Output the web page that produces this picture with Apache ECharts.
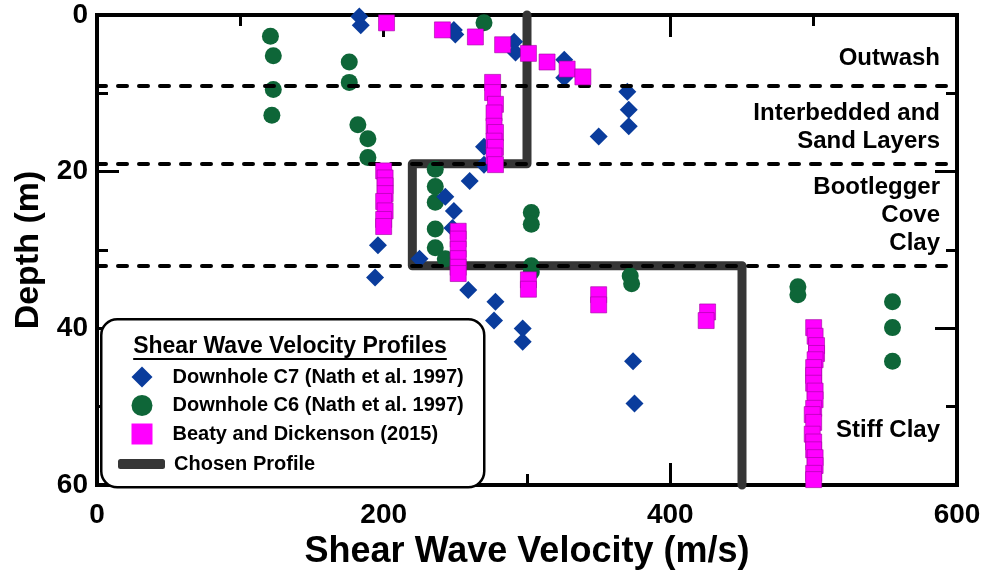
<!DOCTYPE html>
<html>
<head>
<meta charset="utf-8">
<script src="https://cdn.jsdelivr.net/npm/echarts@6/dist/echarts.min.js"></script>
<style>
  html, body { margin: 0; padding: 0; background: #ffffff; }
  #chart { width: 984px; height: 575px; }
</style>
</head>
<body>
<div id="chart"></div>
<script>
// Axis ranges and tick steps
const velocityTicks = [0, 200, 400, 600];
const depthTicks = [0, 20, 40, 60];

// Depths (m) of the boundaries between soil layers
const layerBoundaries = [9, 19, 32];

// Downhole C7 (Nath et al. 1997): [shear wave velocity m/s, depth m]
const downholeC7 = [
  [183, 0.2], [184, 1.3], [249, 1.9], [250, 2.5], [291, 3.4], [292, 4.8],
  [326, 5.7], [326, 8.0], [370, 9.8], [371, 12.1], [371, 14.2], [350, 15.5],
  [270, 16.8], [270, 19.1], [260, 21.2], [243, 23.2], [249, 25.0], [248, 27.2],
  [196, 29.4], [225, 31.1], [194, 33.5], [259, 35.1], [278, 36.6], [277, 39.0],
  [297, 40.0], [297, 41.7], [374, 44.2], [375, 49.6]
];

// Downhole C6 (Nath et al. 1997)
const downholeC6 = [
  [121, 2.7], [123, 5.2], [123, 9.5], [122, 12.8], [270, 1.0], [176, 6.0],
  [176, 8.6], [182, 14.0], [189, 15.8], [189, 18.2], [236, 19.7], [236, 21.9],
  [236, 23.9], [236, 27.3], [236, 29.7], [243, 31.1], [303, 25.2], [303, 26.7],
  [303, 32.0], [303, 32.8], [372, 33.3], [373, 34.3], [489, 34.7], [489, 35.7],
  [555, 36.6], [555, 39.9], [555, 44.2]
];

// Beaty and Dickenson (2015)
const beatyDickenson = [
  [202, 1.0], [241, 1.9], [264, 2.8], [283, 3.8], [301, 4.9], [314, 6.0],
  [328, 6.9], [339, 7.9],
  [276, 8.6], [276, 9.9], [278, 11.4], [277, 12.5], [277, 14.2], [278, 15.0],
  [277, 16.1], [278, 16.9], [277, 18.0], [278, 19.1],
  [200, 19.9], [201, 20.8], [201, 21.8], [201, 22.8], [200, 23.8], [201, 25.0],
  [200, 26.1], [200, 27.0],
  [252, 27.6], [252, 28.6], [252, 29.9], [252, 31.1], [252, 32.2], [252, 33.0],
  [301, 33.8], [301, 35.0], [350, 35.7], [350, 37.0], [426, 37.9], [425, 39.0],
  [500, 39.9], [501, 41.0], [502, 42.2], [502, 43.2], [501, 44.0], [500, 45.0],
  [500, 46.0], [500, 47.0], [501, 48.0], [501, 49.1], [500, 50.2], [499, 51.0],
  [500, 52.0], [499, 53.5], [500, 54.5], [500, 55.5], [501, 56.5], [501, 57.5],
  [500, 58.5], [500, 59.3]
];

// Chosen step profile
const chosenProfile = [
  [300, 0], [300, 19], [220, 19], [220, 32], [450, 32], [450, 60]
];

const FONT = "'Liberation Sans', Arial, Helvetica, sans-serif";
const BLUE = '#0a3c9c';
const GREEN = '#0e6638';
const MAGENTA = '#ff00ff';
const PROFILE = '#363636';

const chart = echarts.init(document.getElementById('chart'), null, { renderer: 'canvas' });

const vStep = velocityTicks[1] - velocityTicks[0];
const dStep = depthTicks[1] - depthTicks[0];

function frameAxis(extra) {
  return Object.assign({
    axisLine: { show: true, onZero: false, lineStyle: { color: '#000', width: 4, cap: 'square' } },
    axisTick: { show: true, inside: true, length: 22, lineStyle: { color: '#000', width: 3 } },
    minorTick: { show: true, splitNumber: 2, length: 11, lineStyle: { color: '#000', width: 3 } },
    splitLine: { show: false },
    minorSplitLine: { show: false }
  }, extra);
}

const xBase = {
  type: 'value',
  min: velocityTicks[0],
  max: velocityTicks[velocityTicks.length - 1],
  interval: vStep
};
const yBase = {
  type: 'value',
  inverse: true,
  min: depthTicks[0],
  max: depthTicks[depthTicks.length - 1],
  interval: dStep
};

// Title of the legend box, underlined
const legendTitle = 'Shear Wave Velocity Profiles';
const titleFont = 'bold 23px ' + FONT;
const ctx = document.createElement('canvas').getContext('2d');
ctx.font = titleFont;
const titleWidth = ctx.measureText(legendTitle).width;
const titleCx = 290;

const labelStyle = { fontFamily: FONT, fontWeight: 'bold', fontSize: 24, fill: '#000', align: 'right', lineHeight: 28 };

const option = {
  animation: false,
  backgroundColor: '#ffffff',
  grid: { left: 97, right: 27, top: 15, bottom: 88, containLabel: false },
  xAxis: [
    frameAxis(Object.assign({}, xBase, {
      position: 'bottom',
      name: 'Shear Wave Velocity (m/s)',
      nameLocation: 'middle',
      nameGap: 47,
      nameTextStyle: { fontFamily: FONT, fontWeight: 'bold', fontSize: 36, color: '#000' },
      axisLabel: { show: true, margin: 16, fontFamily: FONT, fontWeight: 'bold', fontSize: 28, color: '#000' }
    })),
    frameAxis(Object.assign({}, xBase, { position: 'top', axisLabel: { show: false } }))
  ],
  yAxis: [
    frameAxis(Object.assign({}, yBase, {
      position: 'left',
      name: 'Depth (m)',
      nameLocation: 'middle',
      nameGap: 44,
      nameTextStyle: { fontFamily: FONT, fontWeight: 'bold', fontSize: 34, color: '#000' },
      axisLabel: { show: true, margin: 9, fontFamily: FONT, fontWeight: 'bold', fontSize: 28, color: '#000' }
    })),
    frameAxis(Object.assign({}, yBase, { position: 'right', axisLabel: { show: false } }))
  ],
  legend: [
    {
      data: [
        { name: 'Downhole C7 (Nath et al. 1997)', icon: 'diamond' },
        { name: 'Downhole C6 (Nath et al. 1997)', icon: 'circle' },
        { name: 'Beaty and Dickenson (2015)', icon: 'rect', itemStyle: { borderWidth: 0 } }
      ],
      orient: 'vertical',
      left: 126.5,
      top: 361.5,
      itemWidth: 21,
      itemHeight: 21,
      itemGap: 7.5,
      selectedMode: false,
      z: 20,
      textStyle: { fontFamily: FONT, fontWeight: 'bold', fontSize: 20, color: '#000', padding: [0, 0, 0, 15] }
    },
    {
      data: [{ name: 'Chosen Profile', icon: 'roundRect', itemStyle: { color: PROFILE } }],
      orient: 'vertical',
      left: 113,
      top: 449,
      itemWidth: 47,
      itemHeight: 10,
      selectedMode: false,
      z: 20,
      textStyle: { fontFamily: FONT, fontWeight: 'bold', fontSize: 20, color: '#000', padding: [0, 0, 0, 4] }
    }
  ],
  graphic: [
    {
      type: 'rect', z: 10, left: 100, top: 318,
      shape: { width: 383, height: 168, r: 16 },
      style: { fill: '#ffffff', stroke: '#000', lineWidth: 2.5 }
    },
    {
      type: 'text', z: 11, x: titleCx, y: 347,
      style: { text: legendTitle, font: titleFont, fill: '#000', align: 'center', verticalAlign: 'middle' }
    },
    {
      type: 'line', z: 11,
      shape: { x1: titleCx - titleWidth / 2, y1: 359, x2: titleCx + titleWidth / 2, y2: 359 },
      style: { stroke: '#000', lineWidth: 2 }
    },
    { type: 'text', z: 11, x: 940, y: 58, style: Object.assign({ text: 'Outwash', verticalAlign: 'middle' }, labelStyle) },
    { type: 'text', z: 11, x: 940, y: 127, style: Object.assign({ text: 'Interbedded and\nSand Layers', verticalAlign: 'middle' }, labelStyle) },
    { type: 'text', z: 11, x: 940, y: 215, style: Object.assign({ text: 'Bootlegger\nCove\nClay', verticalAlign: 'middle' }, labelStyle) },
    { type: 'text', z: 11, x: 940, y: 430, style: Object.assign({ text: 'Stiff Clay', verticalAlign: 'middle' }, labelStyle) }
  ],
  series: [
    {
      name: 'Chosen Profile',
      type: 'line',
      data: chosenProfile,
      showSymbol: false,
      symbol: 'none',
      clip: false,
      z: 2,
      lineStyle: { color: PROFILE, width: 9, cap: 'round', join: 'round' },
      itemStyle: { color: PROFILE },
      markLine: {
        silent: true,
        symbol: 'none',
        label: { show: false },
        lineStyle: { color: '#000', width: 4, type: [9, 12], cap: 'round' },
        data: layerBoundaries.map(d => ({ yAxis: d }))
      }
    },
    {
      name: 'Downhole C6 (Nath et al. 1997)',
      type: 'scatter',
      data: downholeC6,
      symbol: 'circle',
      symbolSize: 17,
      clip: false,
      z: 3,
      itemStyle: { color: GREEN, opacity: 1 }
    },
    {
      name: 'Downhole C7 (Nath et al. 1997)',
      type: 'scatter',
      data: downholeC7,
      symbol: 'diamond',
      symbolSize: 18,
      clip: false,
      z: 4,
      itemStyle: { color: BLUE, opacity: 1 }
    },
    {
      name: 'Beaty and Dickenson (2015)',
      type: 'scatter',
      data: beatyDickenson,
      symbol: 'rect',
      symbolSize: 16,
      clip: false,
      z: 5,
      itemStyle: { color: MAGENTA, borderColor: '#a000a0', borderWidth: 0.6, opacity: 1 }
    }
  ]
};

chart.setOption(option);
</script>
</body>
</html>
